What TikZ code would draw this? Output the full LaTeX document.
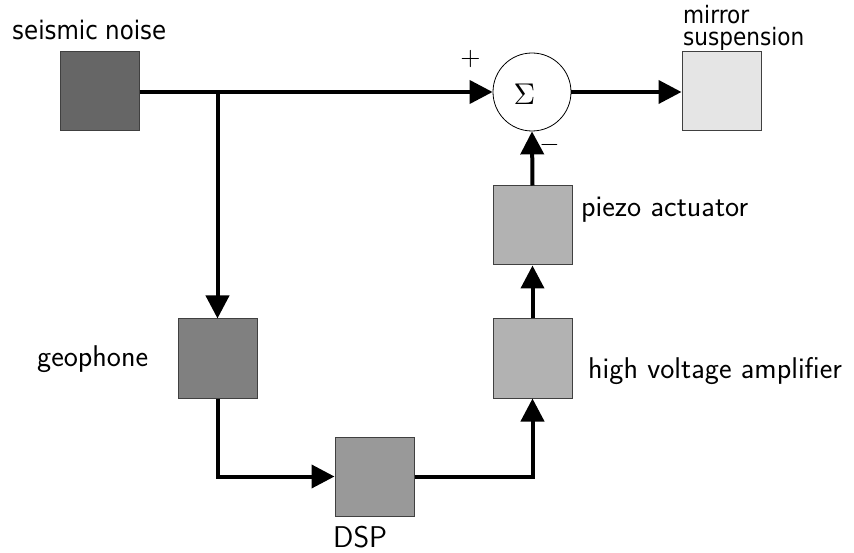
\documentclass[tikz,border=0pt]{standalone}
\usepackage{graphicx}
\usepackage{fontspec}
\newfontfamily\dvc[FakeStretch=0.9]{DejaVu Sans}
\usetikzlibrary{arrows.meta}
\begin{document}
\begin{tikzpicture}[x=1pt,y=-1pt,
  blk/.style={draw=black!75,line width=1pt,minimum size=79pt,inner sep=0pt},
  conn/.style={line width=4pt,-{Triangle[length=23pt,width=23pt]}},
  lbl/.style={font=\sffamily\fontsize{30}{32}\selectfont,inner sep=0pt},
  dlbl/.style={font=\dvc\fontsize{25.5}{17}\selectfont,inner sep=0pt},
  mlbl/.style={font=\dvc\fontsize{24}{17}\selectfont,inner sep=0pt,text height=14pt,text depth=0pt},
  sgn/.style={inner sep=0pt}]
\useasboundingbox (0,0) rectangle (854,553);
\node[blk,fill=black!60] (seis) at (99.5,91.5) {};
\node[blk,fill=black!50] (geo) at (217.5,358.5) {};
\node[blk,fill=black!40] (dsp) at (374.5,476.5) {};
\node[blk,fill=black!30] (hv) at (532.5,358.5) {};
\node[blk,fill=black!30] (pz) at (532.5,225.5) {};
\node[blk,fill=black!10] (mir) at (721.5,91.5) {};
\node[draw,circle,line width=0.8pt,minimum size=78pt,inner sep=0pt] (sum) at (532,92) {};
\node[sgn] (sig) at (524.5,94) {\scalebox{3}{$\Sigma$}};
\node[dlbl,anchor=base west] (lseis) at (12,40) {seismic noise};
\node[mlbl,anchor=base west] (lmir1) at (683,23.5) {mirror};
\node[mlbl,anchor=base west] (lmir2) at (683,45.5) {suspension};
\node[lbl,anchor=base west] (lpz) at (581,217) {piezo actuator};
\node[lbl,anchor=base west] (lhv) at (588,378) {high voltage amplifier};
\node[lbl,anchor=base west] (lgeo) at (37,366.5) {geophone};
\node[lbl,anchor=base west] (ldsp) at (333,547) {DSP};
\node[sgn] (plus) at (470.5,59.5) {\scalebox{2.6}{$+$}};
\node[sgn] (minus) at (549.5,145) {\scalebox{2.6}{$-$}};
\coordinate (br) at (217.5,92);
\draw[conn] (seis.east |- sum.west) -- (sum.west);
\draw[conn] (br) -- (geo.north);
\draw[conn] (geo.south) |- (dsp.west);
\draw[conn] (dsp.east) -| (hv.south);
\draw[conn] (hv.north) -- (pz.south);
\draw[conn] (pz.north) -- (sum.south);
\draw[conn] (sum.east) -- (sum.east -| mir.west);
\end{tikzpicture}
\end{document}
